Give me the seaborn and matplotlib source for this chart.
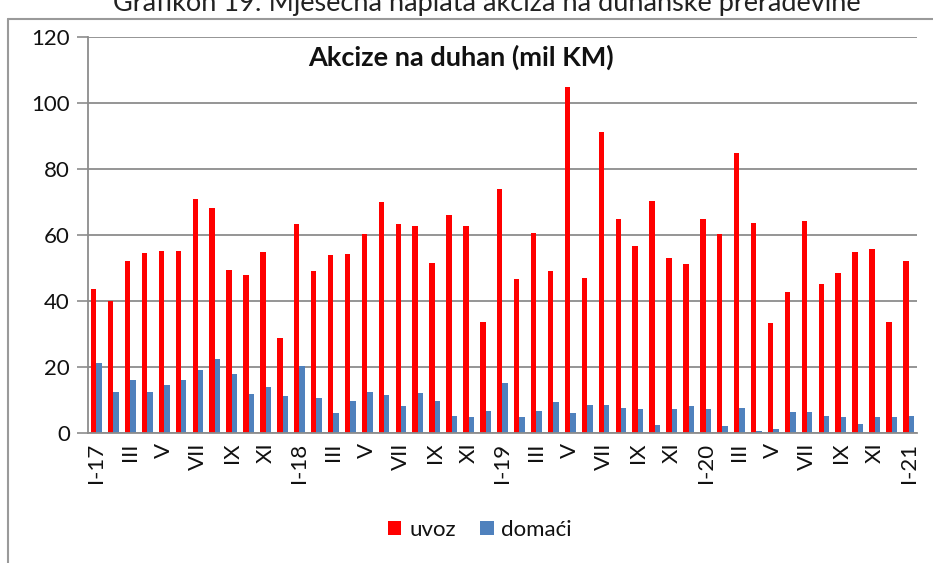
import matplotlib
matplotlib.use("Agg")
import matplotlib.pyplot as plt
import seaborn as sns
import pandas as pd
import numpy as np
from matplotlib.lines import Line2D
from matplotlib.patches import Patch

sns.set_style("white")
plt.rcParams['font.family'] = ['Lato', 'DejaVu Sans']

romans = ['I', 'II', 'III', 'IV', 'V', 'VI', 'VII', 'VIII', 'IX', 'X', 'XI', 'XII']
years = ['17', '18', '19', '20']
months = [f"{r}-{y}" for y in years for r in romans] + ['I-21']

tick_labels = []
for m in months:
    r, y = m.split('-')
    if r == 'I':
        tick_labels.append(m)
    elif r in ('III', 'V', 'VII', 'IX', 'XI'):
        tick_labels.append(r)
    else:
        tick_labels.append('')

uvoz = [43.5, 40.0, 52.0, 54.5, 55.3, 55.3, 70.8, 68.1, 49.5, 48.0, 55.0, 28.8,
        63.3, 49.2, 53.8, 54.1, 60.3, 69.9, 63.3, 62.6, 51.4, 66.0, 62.6, 33.6,
        73.9, 46.8, 60.6, 49.1, 104.9, 47.1, 91.1, 64.8, 56.8, 70.4, 52.9, 51.1,
        64.8, 60.3, 84.8, 63.6, 33.2, 42.6, 64.3, 45.3, 48.4, 55.0, 55.7, 33.6,
        52.2]
domaci = [21.1, 12.5, 16.0, 12.5, 14.4, 16.0, 19.0, 22.5, 17.9, 11.7, 14.0, 11.3,
          20.2, 10.5, 6.0, 9.8, 12.5, 11.4, 8.3, 12.1, 9.8, 5.3, 4.9, 6.8,
          15.3, 4.7, 6.8, 9.5, 6.0, 8.6, 8.6, 7.6, 7.2, 2.4, 7.2, 8.3,
          7.2, 2.0, 7.6, 0.5, 1.3, 6.5, 6.5, 5.3, 4.9, 2.8, 4.8, 4.8,
          5.3]

series_names = ['uvoz', 'domaći']
colors = {'uvoz': '#FF0000', 'domaći': '#4F81BD'}

df = pd.DataFrame({
    'mjesec': months * 2,
    'serija': ['uvoz'] * len(months) + ['domaći'] * len(months),
    'vrijednost': uvoz + domaci,
})

W, H = 933, 563
fig = plt.figure(figsize=(W / 100, H / 100), dpi=100)
ax = fig.add_axes([88 / W, 1 - 433 / H, (917 - 88) / W, (433 - 37) / H])

sns.barplot(data=df, x='mjesec', y='vrijednost', hue='serija', order=months,
            hue_order=series_names, palette=colors, width=0.64, gap=0,
            saturation=1, linewidth=0, ax=ax, legend=False)

grid_c = '#8C8C8C'
txt_c = '#111111'
ax.set_ylim(0, 120)
ax.set_xlim(-0.5, len(months) - 0.5)
ax.set_yticks(np.arange(0, 121, 20))
ax.yaxis.grid(True, color=grid_c, linewidth=1.3)
ax.set_axisbelow(True)
ax.set_xlabel('')
ax.set_ylabel('')
for s in ['top', 'right']:
    ax.spines[s].set_visible(False)
for s in ['left', 'bottom']:
    ax.spines[s].set_color(grid_c)
    ax.spines[s].set_linewidth(1.3)

ax.set_xticks(range(len(months)))
ax.set_xticklabels(tick_labels, rotation=90, fontsize=16, color=txt_c)
ax.set_xticks(np.arange(-0.5, len(months), 1), minor=True)
ax.tick_params(axis='x', which='major', length=0, pad=7)
ax.tick_params(axis='x', which='minor', length=7, color=grid_c, width=1.2, direction='out')
ax.tick_params(axis='y', length=8, color=grid_c, width=1.2, labelsize=16, pad=5,
               labelcolor=txt_c, left=True)

ax.text(0.45, 0.948, 'Akcize na duhan (mil KM)', transform=ax.transAxes,
        ha='center', va='center', fontsize=19.5, fontweight='bold', color=txt_c)

handles = [Patch(facecolor=colors[n], edgecolor='none') for n in series_names]
fig.legend(handles, series_names, loc='center', bbox_to_anchor=(480 / W, 1 - 530 / H),
           ncol=2, frameon=False, fontsize=16, handlelength=0.6, handleheight=0.6,
           handletextpad=0.35, columnspacing=1.1, labelcolor=txt_c)

# outer frame (left and top)
fx = 8 / W
fy = 1 - 19 / H
fig.add_artist(Line2D([fx, fx], [0, fy], transform=fig.transFigure, color='#9a9a9a', lw=1.5))
fig.add_artist(Line2D([fx, 1], [fy, fy], transform=fig.transFigure, color='#9a9a9a', lw=1.5))

# chart caption above the frame (clipped by the top edge, as in the source)
fig.text(487 / W, 1 - 11 / H, 'Grafikon 19: Mjesečna naplata akciza na duhanske prerađevine',
         ha='center', va='baseline', fontsize=19.5, color='#222222')

fig.savefig('out.png', dpi=100)
